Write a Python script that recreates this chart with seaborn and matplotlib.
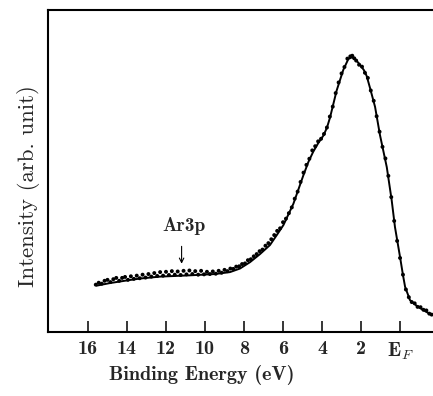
import matplotlib
matplotlib.use("Agg")
import matplotlib.pyplot as plt
import seaborn as sns
import pandas as pd

# Smooth fitted curve (binding energy in eV, intensity in arb. units)
curve_energy = [15.55, 14.87, 14.02, 13.33, 12.31, 10.77, 9.49, 8.72, 8.21, 7.69,
                7.18, 6.67, 6.32, 5.98, 5.47, 4.96, 4.7, 4.45, 4.2, 3.93,
                3.75, 3.59, 3.25, 2.91, 2.65, 2.46, 2.31, 2.05, 1.85, 1.71,
                1.54, 1.28, 1.03, 0.68, 0.43, 0.26, 0.00, -0.15, -0.26, -0.51,
                -0.86, -1.19, -1.54]
curve_intensity = [14.4, 15.2, 16.0, 16.6, 17.2, 17.6, 18.0, 18.6, 19.7, 21.7,
                   24.2, 27.0, 30.1, 33.2, 39.8, 48.6, 52.8, 56.0, 58.6, 61.0,
                   63.4, 66.6, 75.0, 81.4, 84.8, 85.3, 84.8, 83.0, 81.3, 79.5,
                   75.8, 69.9, 61.2, 51.2, 41.0, 32.6, 23.3, 17.7, 14.0, 9.9,
                   8.1, 6.8, 5.6]

# Measured data points
dot_energy = [15.6, 15.45, 15.3, 15.15, 15.0, 14.85, 14.7, 14.55, 14.4, 14.25,
              14.1, 13.95, 13.8, 13.65, 13.5, 13.35, 13.2, 13.05, 12.9, 12.75,
              12.6, 12.45, 12.3, 12.15, 12.0, 11.85, 11.7, 11.55, 11.4, 11.25,
              11.1, 10.95, 10.8, 10.65, 10.5, 10.35, 10.2, 10.05, 9.9, 9.75,
              9.6, 9.45, 9.3, 9.15, 9.0, 8.85, 8.7, 8.55, 8.4, 8.25,
              8.1, 7.95, 7.8, 7.65, 7.5, 7.35, 7.2, 7.05, 6.9, 6.75,
              6.6, 6.45, 6.3, 6.15, 6.0, 5.85, 5.7, 5.55, 5.4, 5.25,
              5.1, 4.95, 4.8, 4.65, 4.5, 4.35, 4.2, 4.05, 3.9, 3.75,
              3.6, 3.45, 3.3, 3.15, 3.0, 2.85, 2.7, 2.55, 2.45, 2.35,
              2.25, 2.1, 1.95, 1.8, 1.65, 1.5, 1.35, 1.2, 1.05, 0.9,
              0.75, 0.6, 0.45, 0.3, 0.15, 0.0, -0.15, -0.3, -0.45, -0.6,
              -0.75, -0.9, -1.05, -1.2, -1.35, -1.5, -1.62]
dot_intensity = [14.7, 15.3, 15.0, 15.9, 16.2, 15.5, 16.4, 16.8, 15.9, 16.8,
                 17.1, 16.2, 17.3, 16.5, 17.5, 16.7, 17.8, 16.9, 18.0, 17.2,
                 18.3, 17.4, 18.6, 17.5, 18.7, 17.7, 18.9, 17.8, 18.8, 17.7,
                 19.0, 17.9, 19.1, 18.0, 18.9, 17.8, 19.0, 17.9, 18.7, 18.0,
                 18.8, 18.1, 19.0, 18.4, 19.3, 18.9, 19.7, 19.6, 20.3, 20.4,
                 21.1, 21.3, 22.3, 22.6, 23.5, 24.2, 25.1, 25.6, 26.8, 27.6,
                 28.8, 30.1, 31.4, 32.2, 34.1, 35.2, 36.9, 38.7, 41.4, 43.6,
                 46.6, 49.5, 51.9, 53.8, 56.4, 57.7, 59.2, 60.0, 61.5, 63.5,
                 66.9, 70.0, 74.2, 77.5, 80.3, 82.3, 84.9, 85.6, 85.8, 85.0,
                 84.3, 83.0, 82.4, 80.5, 78.9, 75.0, 71.8, 67.0, 62.2, 57.5,
                 53.9, 48.5, 41.9, 34.5, 28.3, 23.0, 17.8, 13.2, 10.8, 9.3,
                 8.9, 7.8, 7.7, 6.9, 6.7, 5.7, 5.4]

tick_values = [16, 14, 12, 10, 8, 6, 4, 2, 0]
tick_labels = ["16", "14", "12", "10", "8", "6", "4", "2", r"$\mathbf{E}_{F}$"]

sns.set_theme(style="white")
plt.rcParams["mathtext.fontset"] = "cm"
plt.rcParams["axes.unicode_minus"] = False

curve_df = pd.DataFrame({"energy": curve_energy, "intensity": curve_intensity})
dots_df = pd.DataFrame({"energy": dot_energy, "intensity": dot_intensity})

fig = plt.figure(figsize=(4.33, 3.96), dpi=100)
ax = fig.add_axes([48 / 433, 1 - 332 / 396, 1 - 48 / 433, 322 / 396])

sns.lineplot(data=curve_df, x="energy", y="intensity", ax=ax, color="black",
             linewidth=1.4, sort=False, estimator=None)
sns.scatterplot(data=dots_df, x="energy", y="intensity", ax=ax, color="black",
                s=8, edgecolor="none")

ax.set_xlim(18.05, -1.69)
ax.set_ylim(0, 100)

for side in ["left", "top", "bottom"]:
    ax.spines[side].set_visible(True)
    ax.spines[side].set_color("black")
    ax.spines[side].set_linewidth(1.5)
ax.spines["right"].set_visible(False)

ax.set_xticks(tick_values)
ax.set_xticklabels(tick_labels, fontfamily="cmb10", fontsize=14.5)
ax.tick_params(axis="x", direction="in", length=8, width=1.1, color="black",
               pad=6, bottom=True, top=False)
ax.set_yticks([])

ax.set_xlabel("Binding Energy (eV)", fontfamily="cmb10", fontsize=14.5)
ax.xaxis.set_label_coords(0.399, -0.102)
ax.set_ylabel("Intensity (arb. unit)", fontfamily="cmr10", fontsize=16.5)
ax.yaxis.set_label_coords(-0.02, 0.453)

ax.text(11.08, 32.9, "Ar3p", fontfamily="cmb10", fontsize=14,
        ha="center", va="center")
ax.annotate("", xy=(11.2, 21.2), xytext=(11.2, 26.6),
            arrowprops=dict(arrowstyle="->", lw=0.8, color="black",
                            mutation_scale=8, shrinkA=0, shrinkB=0))

fig.savefig("out.png", dpi=100)
